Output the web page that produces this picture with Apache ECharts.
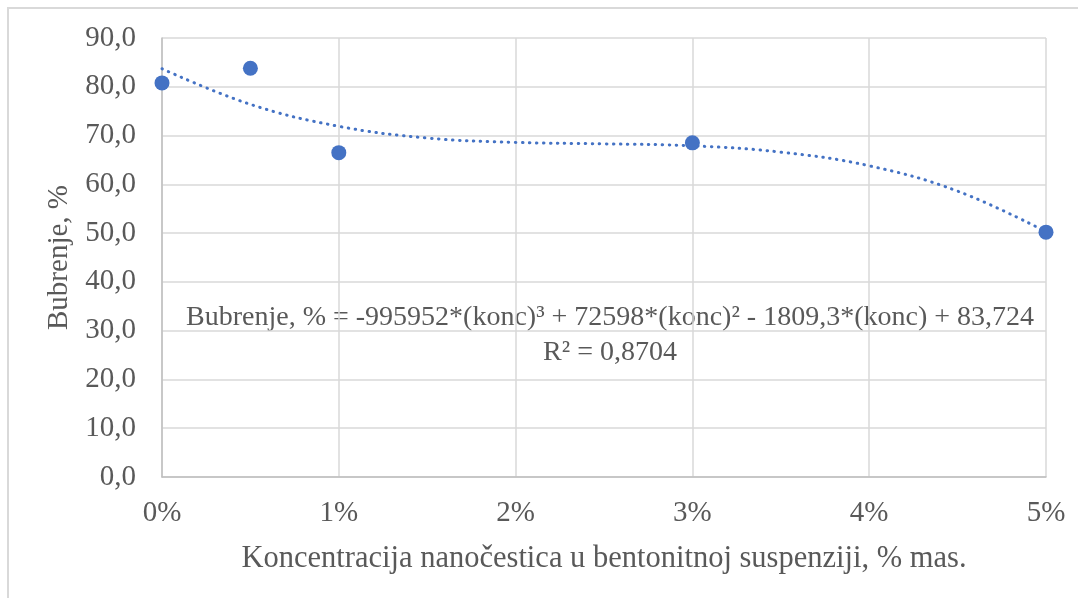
<!DOCTYPE html>
<html><head><meta charset="utf-8">
<script src="https://cdn.jsdelivr.net/npm/echarts@6/dist/echarts.min.js"></script>
<style>html,body{margin:0;padding:0;background:#fff}#c{width:1078px;height:598px}</style>
</head><body><div id="c"></div>
<script>
// measured data points (concentration as fraction, swelling %)
const konc = [0, 0.005, 0.01, 0.03, 0.05];
const bubrenje = [80.8, 83.8, 66.5, 68.5, 50.2];
// trendline
const trendX = [0, 0.005, 0.01, 0.015, 0.02, 0.025, 0.03, 0.035, 0.04, 0.045, 0.05];
const trendY = [83.7, 76.4, 71.9, 69.5, 68.6, 68.3, 67.9, 66.6, 63.8, 58.6, 50.3];
const yTicks = [0, 10, 20, 30, 40, 50, 60, 70, 80, 90];
const xTicks = ['0%', '1%', '2%', '3%', '4%', '5%'];
const eqText = 'Bubrenje, % = -995952*(konc)³ + 72598*(konc)² - 1809,3*(konc) + 83,724';
const r2Text = 'R² = 0,8704';
const xTitle = 'Koncentracija nanočestica u bentonitnoj suspenziji, % mas.';
const yTitle = 'Bubrenje, %';

const chart = echarts.init(document.getElementById('c'), null, {renderer: 'canvas'});
const font = "'Liberation Serif', 'Times New Roman', serif";
const txt = '#595959';
chart.setOption({
  animation: false,
  textStyle: {fontFamily: font},
  grid: {left: 162, right: 32, top: 38, bottom: 121, containLabel: false},
  xAxis: {
    type: 'value', min: 0, max: 0.05, interval: 0.01,
    axisLine: {show: true, lineStyle: {color: '#bfbfbf', width: 1.5}},
    axisTick: {show: false},
    splitLine: {show: true, lineStyle: {color: '#d9d9d9', width: 1.5}},
    axisLabel: {color: txt, fontSize: 29, fontFamily: font, margin: 22,
      formatter: v => xTicks[Math.round(v / 0.01)]},
    name: xTitle, nameLocation: 'middle', nameGap: 66,
    nameTextStyle: {color: txt, fontSize: 30.5, fontFamily: font}
  },
  yAxis: {
    type: 'value', min: 0, max: 90, interval: 10,
    axisLine: {show: true, lineStyle: {color: '#bfbfbf', width: 1.5}},
    axisTick: {show: false},
    splitLine: {show: true, lineStyle: {color: '#d9d9d9', width: 1.5}},
    axisLabel: {color: txt, fontSize: 29, fontFamily: font, margin: 26,
      formatter: v => yTicks[Math.round(v / 10)].toFixed(1).replace('.', ',')},
    name: yTitle, nameLocation: 'middle', nameGap: 82, nameRotate: 90,
    nameTextStyle: {color: txt, fontSize: 29, fontFamily: font}
  },
  graphic: [
    {type: 'rect', shape: {x: 8, y: 8, width: 1200, height: 700},
     style: {fill: 'none', stroke: '#d9d9d9', lineWidth: 2}, silent: true, z: -10},
    {type: 'text', x: 610, y: 318, style: {text: eqText, fill: txt, font: '28px ' + font,
      textAlign: 'center', textVerticalAlign: 'middle'}},
    {type: 'text', x: 610, y: 353, style: {text: r2Text, fill: txt, font: '28px ' + font,
      textAlign: 'center', textVerticalAlign: 'middle'}}
  ],
  series: [
    {type: 'line', data: trendX.map((x, i) => [x, trendY[i]]), smooth: 0.4,
     showSymbol: false, lineStyle: {color: '#4472C4', width: 3, type: [0.5, 6.5], cap: 'round'}, z: 2},
    {type: 'scatter', data: konc.map((x, i) => [x, bubrenje[i]]), symbolSize: 15,
     itemStyle: {color: '#4472C4', opacity: 1}, z: 3}
  ]
});
</script></body></html>
